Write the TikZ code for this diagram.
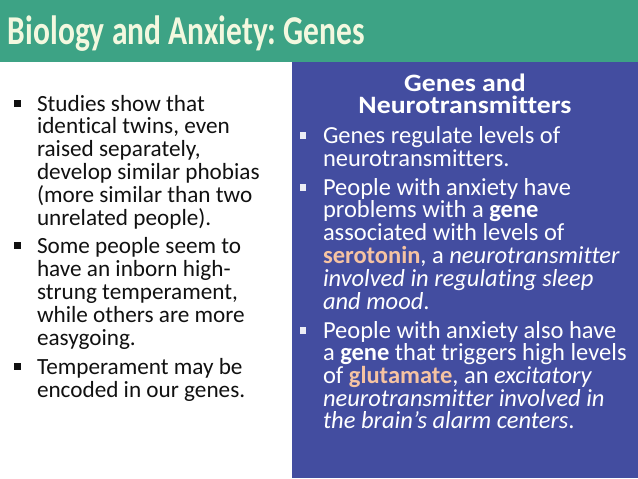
\documentclass[tikz,border=0pt]{standalone}
\usepackage{fontspec}
\setmainfont{Carlito}[Ligatures=NoCommon]
\definecolor{titlegreen}{HTML}{3DA385}
\definecolor{boxblue}{HTML}{434DA0}
\definecolor{titletext}{HTML}{F3F8DF}
\definecolor{peach}{HTML}{F6C3A2}
\definecolor{bodytext}{HTML}{111111}
\begin{document}
\frenchspacing
\begin{tikzpicture}[x=1pt,y=-1pt,
  every node/.style={inner sep=0pt,outer sep=0pt},
  lline/.style={anchor=base west,font=\fontsize{23.2}{22.5}\selectfont,text=bodytext},
  rline/.style={anchor=base west,font=\fontsize{24.5}{22.5}\selectfont,text=white},
  rhead/.style={anchor=south,align=center,font=\fontsize{27.8}{22}\selectfont\bfseries,text=white},
  lbul/.style={fill=bodytext,minimum size=6.5pt},
  rbul/.style={fill=white!90!boxblue,minimum size=6.5pt}]
\useasboundingbox (0,0) rectangle (638,479);
\fill[white] (0,0) rectangle (638,479);
\fill[titlegreen] (0,0) rectangle (638,61.5);
\fill[boxblue] (292,61.5) rectangle (638,477.5);
\node[anchor=base west,font=\fontsize{31.5}{34}\selectfont\bfseries,text=titletext] (title) at (8,45) {\scalebox{1}[1.3]{Biology and Anxiety: Genes}};
% left column
\node[lbul] (lb1) at (17.5,103.5) {};
\node[lline] (l1) at (37,111) {Studies show that};
\node[lline] (l2) at (37,133.5) {identical twins, even};
\node[lline] (l3) at (37,156.5) {raised separately,};
\node[lline] (l4) at (37,179) {develop similar phobias};
\node[lline] (l5) at (37,202) {(more similar than two};
\node[lline] (l6) at (37,225) {unrelated people).};
\node[lbul] (lb2) at (17.5,245.5) {};
\node[lline] (l7) at (37,253) {Some people seem to};
\node[lline] (l8) at (37,276) {have an inborn high-};
\node[lline] (l9) at (37,299) {strung temperament,};
\node[lline] (l10) at (37,322) {while others are more};
\node[lline] (l11) at (37,345) {easygoing.};
\node[lbul] (lb3) at (17.5,366.5) {};
\node[lline] (l12) at (37,374) {Temperament may be};
\node[lline] (l13) at (37,397) {encoded in our genes.};
% right box
\node[rhead] (head) at (465,114) {\scalebox{1}[0.9]{Genes and}\\\scalebox{1}[0.9]{Neurotransmitters}};
\node[rbul] (rb1) at (303,135.5) {};
\node[rline] (r1) at (323,143) {Genes regulate levels of};
\node[rline] (r2) at (323,166) {neurotransmitters.};
\node[rbul] (rb2) at (303,187.5) {};
\node[rline] (r3) at (323,195) {People with anxiety have};
\node[rline] (r4) at (323,217.5) {problems with a \textbf{gene}};
\node[rline] (r5) at (323,240) {associated with levels of};
\node[rline] (r6) at (323,263) {\textbf{\color{peach}serotonin}, a \textit{neurotransmitter}};
\node[rline] (r7) at (323,286) {\textit{involved in regulating sleep}};
\node[rline] (r8) at (323,309) {\textit{and mood}.};
\node[rbul] (rb3) at (303,330.5) {};
\node[rline] (r9) at (323,338) {People with anxiety also have};
\node[rline] (r10) at (323,360.5) {a \textbf{gene} that triggers high levels};
\node[rline] (r11) at (323,383) {of \textbf{\color{peach}glutamate}, an \textit{excitatory}};
\node[rline] (r12) at (323,406) {\textit{neurotransmitter involved in}};
\node[rline] (r13) at (323,428.5) {\textit{the brain’s alarm centers}.};
\end{tikzpicture}
\end{document}
